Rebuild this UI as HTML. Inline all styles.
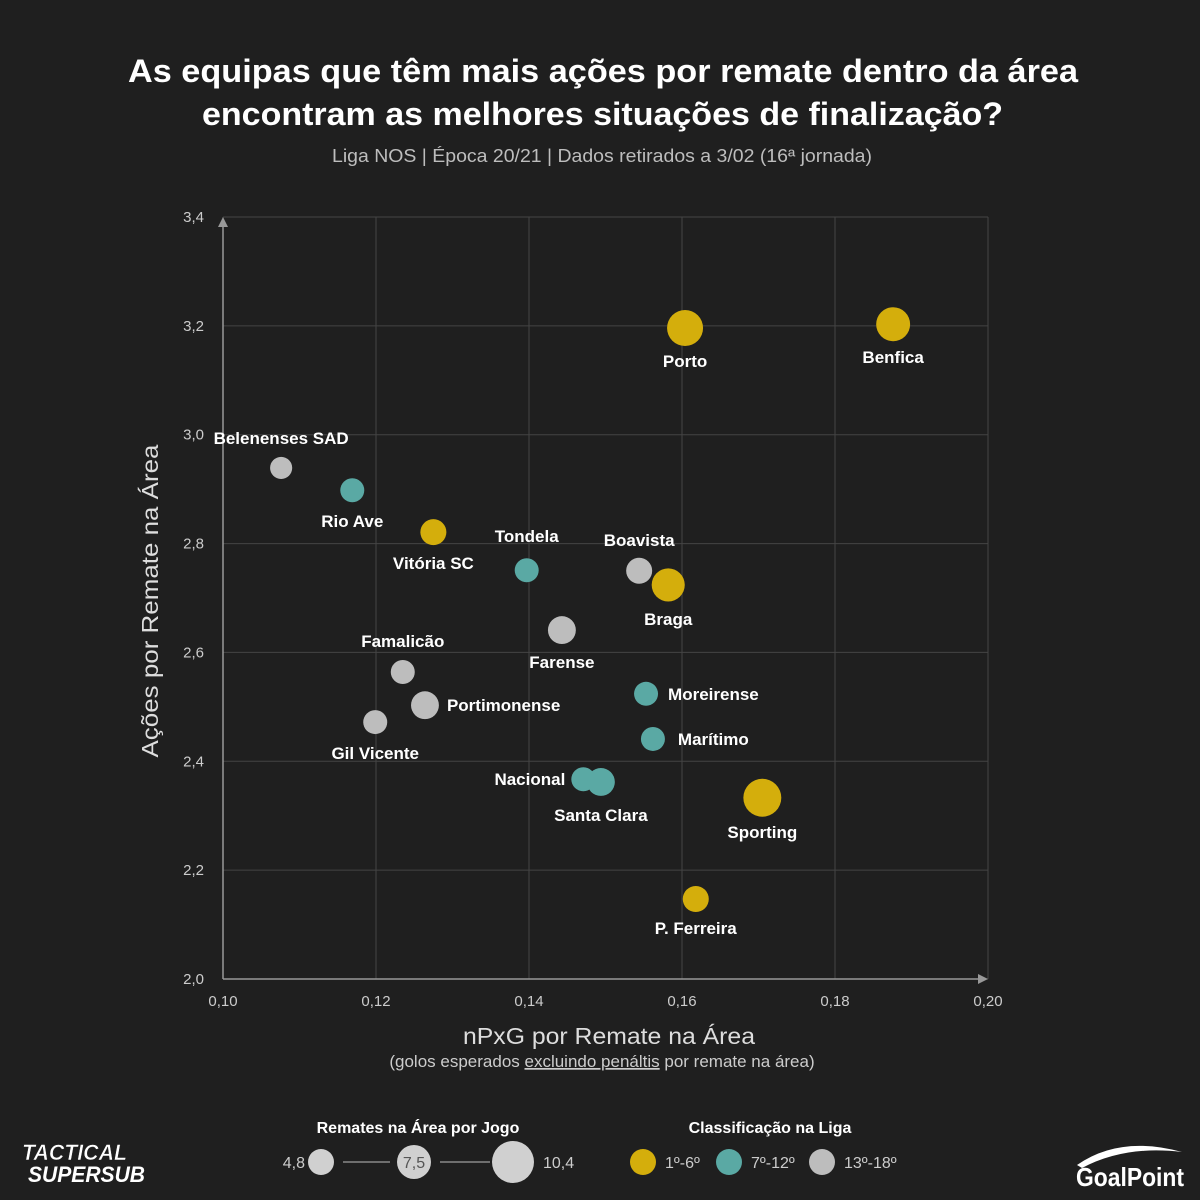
<!DOCTYPE html>
<html><head><meta charset="utf-8"><style>
body{margin:0;background:#1f1f1f;}
svg{display:block;font-family:"Liberation Sans",sans-serif;}
</style></head><body>
<svg id="chart" width="1200" height="1200" viewBox="0 0 1200 1200">
<rect width="1200" height="1200" fill="#1f1f1f"/>
<text x="128" y="82" textLength="950" lengthAdjust="spacingAndGlyphs" fill="#fff" font-size="32" font-weight="bold">As equipas que têm mais ações por remate dentro da área</text>
<text x="202" y="125" textLength="801" lengthAdjust="spacingAndGlyphs" fill="#fff" font-size="32" font-weight="bold">encontram as melhores situações de finalização?</text>
<text x="332" y="162" textLength="540" lengthAdjust="spacingAndGlyphs" fill="#bdbdbd" font-size="18">Liga NOS | Época 20/21 | Dados retirados a 3/02 (16ª jornada)</text>
<g id="grid"></g>
<g id="axes"></g>
<g id="points"></g>
<text transform="translate(158,601) rotate(-90)" text-anchor="middle" textLength="313" lengthAdjust="spacingAndGlyphs" fill="#ddd" font-size="23">Ações por Remate na Área</text>
<text x="463" y="1044" textLength="292" lengthAdjust="spacingAndGlyphs" fill="#ddd" font-size="23">nPxG por Remate na Área</text>
<text x="602" y="1067" text-anchor="middle" fill="#ccc" font-size="17">(golos esperados <tspan text-decoration="underline">excluindo penáltis</tspan> por remate na área)</text>
<g>
<text x="418" y="1133" text-anchor="middle" fill="#fff" font-size="16" font-weight="bold">Remates na Área por Jogo</text>
<text x="305" y="1168" text-anchor="end" fill="#ccc" font-size="16">4,8</text>
<circle cx="321" cy="1162" r="13" fill="#d0d0d0"/>
<line x1="343" y1="1162" x2="390" y2="1162" stroke="#888" stroke-width="1.5"/>
<circle cx="414" cy="1162" r="17" fill="#d0d0d0"/>
<text x="414" y="1168" text-anchor="middle" fill="#555" font-size="16">7,5</text>
<line x1="440" y1="1162" x2="490" y2="1162" stroke="#888" stroke-width="1.5"/>
<circle cx="513" cy="1162" r="21" fill="#d0d0d0"/>
<text x="543" y="1168" fill="#ccc" font-size="16">10,4</text>
</g>
<g>
<text x="770" y="1133" text-anchor="middle" fill="#fff" font-size="16" font-weight="bold">Classificação na Liga</text>
<circle cx="643" cy="1162" r="13" fill="#d4ae0c"/>
<text x="665" y="1168" fill="#ccc" font-size="16">1º-6º</text>
<circle cx="729" cy="1162" r="13" fill="#5aa9a4"/>
<text x="751" y="1168" fill="#ccc" font-size="16">7º-12º</text>
<circle cx="822" cy="1162" r="13" fill="#bdbdbd"/>
<text x="844" y="1168" fill="#ccc" font-size="16">13º-18º</text>
</g>
<g>
<text x="22" y="1160" textLength="105" lengthAdjust="spacingAndGlyphs" fill="#fff" stroke="#1f1f1f" stroke-width="0.5" font-size="22" font-weight="bold" font-style="italic">TACTICAL</text>
<text x="28" y="1182" textLength="117" lengthAdjust="spacingAndGlyphs" fill="#fff" font-size="22" font-weight="bold" font-style="italic">SUPERSUB</text>
</g>
<g>
<path d="M1077 1165 Q1120 1135 1182 1152 Q1125 1145 1082 1168Z" fill="#fff"/>
<text x="1130" y="1186" text-anchor="middle" textLength="108" lengthAdjust="spacingAndGlyphs" fill="#fff" font-size="26" font-weight="bold">GoalPoint</text>
</g>
</svg>
<script>
const teams=["Benfica","Porto","Belenenses SAD","Rio Ave","Vitória SC","Tondela","Boavista","Braga","Farense","Famalicão","Portimonense","Gil Vicente","Moreirense","Marítimo","Nacional","Santa Clara","Sporting","P. Ferreira"];
const npxg=[0.1876,0.1604,0.1076,0.1169,0.1275,0.1397,0.1544,0.1582,0.1443,0.1235,0.1264,0.1199,0.1553,0.1562,0.1471,0.1494,0.1705,0.1618];
const actions=[3.203,3.196,2.939,2.898,2.821,2.751,2.750,2.724,2.641,2.564,2.503,2.472,2.524,2.441,2.367,2.362,2.333,2.147];
const shots=[8.0,9.0,3.4,4.0,4.7,4.0,4.7,7.6,5.4,4.0,5.4,4.0,4.0,4.0,4.0,5.4,10.0,4.7];
const tier=[1,1,3,2,1,2,3,1,3,3,3,3,2,2,2,2,1,1];
const xTicks=[0.10,0.12,0.14,0.16,0.18,0.20];
const yTicks=[2.0,2.2,2.4,2.6,2.8,3.0,3.2,3.4];
const labelDx=[0,0,0,0,0,0,0,0,0,0,22,0,22,25,-18,0,0,0];
const labelDy=[39,39,-24,37,37,-28,-25,40,38,-25,6,37,6,6,6,39,40,35];
const labelAnchor=["m","m","m","m","m","m","m","m","m","m","s","m","s","s","e","m","m","m"];
const X=v=>223+(v-0.10)/0.10*765;
const Y=v=>979-(v-2.0)/1.4*762;
const R=v=>6*Math.sqrt(v);
const colors={1:"#d4ae0c",2:"#5aa9a4",3:"#bdbdbd"};
const NS="http://www.w3.org/2000/svg";
function mk(t,a,p){const e=document.createElementNS(NS,t);for(const k in a)e.setAttribute(k,a[k]);p.appendChild(e);return e;}
const grid=document.getElementById('grid'),axes=document.getElementById('axes'),pts=document.getElementById('points');
xTicks.forEach(t=>{
 const l=mk('line',{x1:X(t),x2:X(t),y1:Y(3.4),y2:Y(2.0),stroke:'#444','stroke-width':1},grid);
 
 
 const tx=mk('text',{x:X(t),y:1006,'text-anchor':'middle',fill:'#ccc','font-size':15},axes);
 tx.textContent=t.toFixed(2).replace('.',',');
 
 
});
yTicks.forEach(t=>{
 const l=mk('line',{x1:X(0.10),x2:X(0.20),y1:Y(t),y2:Y(t),stroke:'#444','stroke-width':1},grid);
 
 
 const tx=mk('text',{x:204,y:Y(t)+5,'text-anchor':'end',fill:'#ccc','font-size':15},axes);
 tx.textContent=t.toFixed(1).replace('.',',');
 
 
});
const xa=mk('line',{x1:X(0.10),x2:X(0.20)-4,y1:Y(2.0),y2:Y(2.0),stroke:'#999','stroke-width':1.5},axes);


mk('path',{d:`M${X(0.20)} ${Y(2.0)} l-10 -5 v10z`,fill:'#999'},axes);
const ya=mk('line',{x1:X(0.10),x2:X(0.10),y1:Y(3.4)+4,y2:Y(2.0),stroke:'#999','stroke-width':1.5},axes);


mk('path',{d:`M${X(0.10)} ${Y(3.4)} l-5 10 h10z`,fill:'#999'},axes);
teams.forEach((n,i)=>{
 const cx=X(npxg[i]),cy=Y(actions[i]);
 const c=mk('circle',{cx:cx,cy:cy,r:R(shots[i]),fill:colors[tier[i]]},pts);
 
 
 const an=labelAnchor[i]=="m"?"middle":labelAnchor[i]=="s"?"start":"end";
 const t=mk('text',{x:cx+labelDx[i],y:cy+labelDy[i],'text-anchor':an,fill:'#fff','font-size':17,'font-weight':'bold'},pts);
 t.textContent=n;
 
 
});
</script>
</body></html>
